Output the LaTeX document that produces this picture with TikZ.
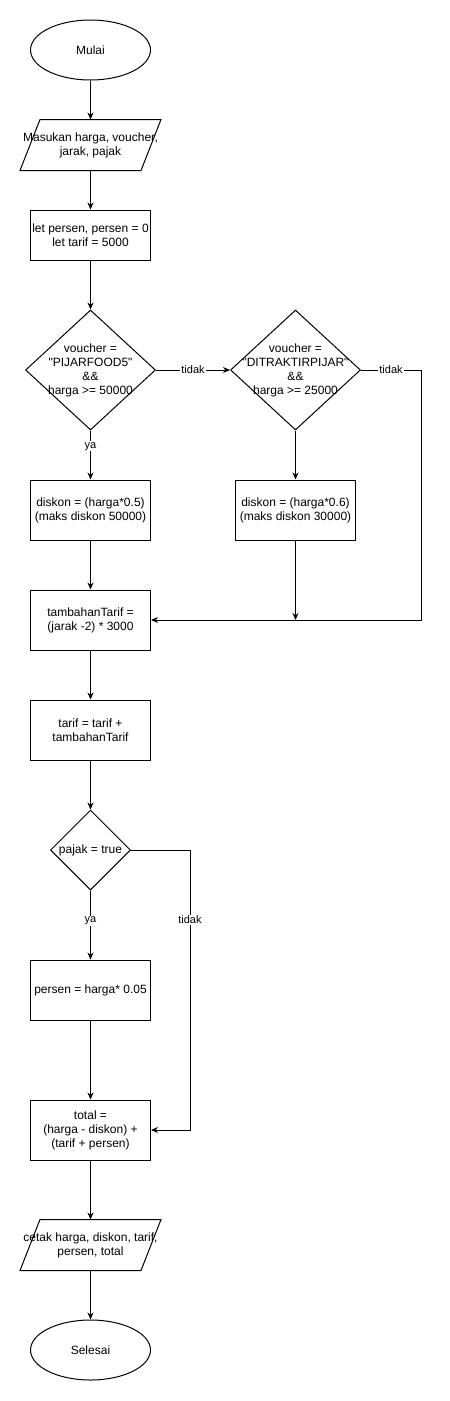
\documentclass[tikz,border=0pt]{standalone}
\usepackage{fontspec}
\setmainfont{Liberation Sans}
\usetikzlibrary{shapes.geometric,arrows.meta}

\begin{document}
\begin{tikzpicture}[x=1pt,y=-1pt,line width=1pt,
    font=\fontsize{12}{14}\selectfont,
    terminal/.style={draw,ellipse,minimum width=120pt,minimum height=60pt,inner sep=0pt},
    processbox/.style={draw,rectangle,minimum width=120pt,minimum height=60pt,inner sep=2pt,align=center},
    iobox/.style={rectangle,minimum width=120pt,minimum height=50pt,inner sep=0pt},
    decision/.style={draw,diamond,inner sep=0pt},
    flow/.style={-{Stealth[length=7pt,width=6pt]}},
    elabel/.style={fill=white,inner sep=1pt,font=\fontsize{11}{13}\selectfont}]

    \useasboundingbox (0,0) rectangle (450,1401);

    \node[terminal] (mulai) at (90.5,50) {Mulai};



    \node[iobox,label={[align=center]center:{Masukan harga, voucher,\\jarak, pajak}}] (input) at (90.5,145) {};

    \draw ([xshift=10pt]input.north west) -- ([xshift=10pt]input.north east)
      -- ([xshift=-10pt]input.south east) -- ([xshift=-10pt]input.south west) -- cycle;



    \node[processbox,minimum height=50pt] (init) at (90.5,235) {let persen, persen = 0\\let tarif = 5000};



    \node[decision,minimum width=130pt,minimum height=120pt,
      label={[align=center]center:{voucher =\\\textquotedbl PIJARFOOD5\textquotedbl\\\&\&\\harga >= 50000}}] (cek1) at (90.5,370) {};

    \node[decision,minimum width=130pt,minimum height=120pt,
      label={[align=center]center:{voucher =\\\textquotedbl DITRAKTIRPIJAR\textquotedbl\\\&\&\\harga >= 25000}}] (cek2) at (295.5,370) {};



    \node[processbox] (diskon1) at (90.5,510) {diskon = (harga*0.5)\\(maks diskon 50000)};

    \node[processbox] (diskon2) at (295.5,510) {diskon = (harga*0.6)\\(maks diskon 30000)};



    \node[processbox] (tambahan) at (90.5,620) {tambahanTarif =\\(jarak -2) * 3000};

    \node[processbox] (tarif) at (90.5,730) {tarif = tarif +\\tambahanTarif};



    \node[decision,minimum width=80pt,minimum height=80pt,
      label={center:pajak = true}] (cekpajak) at (90.5,850) {};

    \node[processbox] (persen) at (90.5,990) {persen = harga* 0.05};

    \node[processbox] (total) at (90.5,1130) {total =\\(harga - diskon) +\\(tarif + persen)};



    \node[iobox,label={[align=center]center:{cetak harga, diskon, tarif,\\persen, total}}] (output) at (90.5,1245) {};

    \draw ([xshift=10pt]output.north west) -- ([xshift=10pt]output.north east)
      -- ([xshift=-10pt]output.south east) -- ([xshift=-10pt]output.south west) -- cycle;

    \node[terminal] (selesai) at (90.5,1350) {Selesai};



    \coordinate (kanan1) at (421,620);

    \coordinate (kanan2) at (190,1130);



    \draw[flow] (mulai) -- (input);
    \draw[flow] (input) -- (init);
    \draw[flow] (init) -- (cek1);

    \draw[flow] (cek1) -- node[elabel]{tidak} (cek2);
    \draw[flow] (cek1) -- node[elabel,pos=0.32]{ya} (diskon1);
    \draw[flow] (cek2) -- (diskon2);
    \draw[flow] (cek2.east) -- node[elabel]{tidak} (cek2.east -| kanan1) -- (kanan1) -- (tambahan.east);

    \draw[flow] (diskon1) -- (tambahan);
    \draw[flow] (diskon2) -- (diskon2 |- kanan1);

    \draw[flow] (tambahan) -- (tarif);
    \draw[flow] (tarif) -- (cekpajak);
    \draw[flow] (cekpajak) -- node[elabel,pos=0.44]{ya} (persen);
    \draw[flow] (cekpajak.east) -- (cekpajak.east -| kanan2) -- node[elabel,pos=0.25]{tidak} (kanan2) -- (total.east);

    \draw[flow] (persen) -- (total);
    \draw[flow] (total) -- (output);
    \draw[flow] (output) -- (selesai);

  \end{tikzpicture}
\end{document}
